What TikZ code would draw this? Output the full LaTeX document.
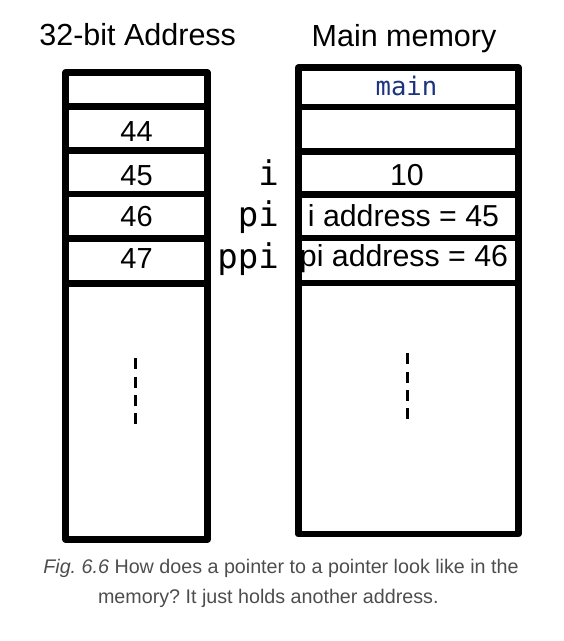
\documentclass[tikz,border=0pt]{standalone}
\usepackage{fontspec}
\setmainfont{Liberation Sans}
\newfontfamily\monof{DejaVu Sans Mono}
\definecolor{navy}{HTML}{1C3380}
\definecolor{capgray}{HTML}{4D4D4D}
\frenchspacing
\begin{document}
\begin{tikzpicture}[x=1pt,y=-1pt,
  frame/.style={line width=6.7pt,line join=round},
  divline/.style={line width=6.7pt},
  dots/.style={line width=2.7pt,dash pattern=on 11pt off 7.3pt},
  title/.style={font=\fontsize{30.5}{36}\selectfont,anchor=base,inner sep=0pt},
  addr/.style={font=\fontsize{29}{34}\selectfont,anchor=base,inner sep=0pt},
  cell/.style={font=\fontsize{30.3}{36}\selectfont,anchor=base,inner sep=0pt},
  var/.style={font=\monof\fontsize{34}{40}\selectfont,anchor=base east,inner sep=0pt},
  captext/.style={font=\fontsize{19.7}{24}\selectfont,text=capgray,anchor=base,inner sep=0pt}]
\useasboundingbox (0,0) rectangle (564,641);
% titles
\node[title] (t1) at (137.7,45.5) {32-bit Address};
\node[title] (t2) at (404,46.7) {Main memory};
% left box
\draw[frame] (65.7,72.7) rectangle (207.5,539.5);
\foreach \y in {106.7,150.7,194,238.3,283.3}
  \draw[divline] (65.7,\y) -- (207.5,\y);
\node[addr] (a44) at (136.6,141.7) {44};
\node[addr] (a45) at (136.6,185) {45};
\node[addr] (a46) at (136.6,226.7) {46};
\node[addr] (a47) at (136.6,268.3) {47};
\draw[dots] (135.3,358.3) -- (135.3,424.3);
% right box
\draw[frame] (298.3,67.7) rectangle (518.3,534);
\foreach \y in {107,151.5,194.7,238,283}
  \draw[divline] (298.3,\y) -- (518.3,\y);
\node[font=\monof\fontsize{25.6}{30}\selectfont,text=navy,anchor=base,inner sep=0pt] (mn) at (406.5,95) {main};
\node[cell] (v10) at (407,185) {10};
\node[cell] (vi) at (403.5,226) {i address = 45};
\node[cell] (vpi) at (404,266) {pi address = 46};
\draw[dots] (407.3,353.3) -- (407.3,419.3);
% variable names
\node[var] (ni) at (279,185) {i};
\node[var] (npi) at (279,226) {pi};
\node[var] (nppi) at (279,268) {ppi};
% caption
\node[captext] (c1) at (281,573.3) {\textit{Fig. 6.6} How does a pointer to a pointer look like in the};
\node[captext] (c2) at (268.3,603.3) {memory? It just holds another address.};
\end{tikzpicture}
\end{document}
